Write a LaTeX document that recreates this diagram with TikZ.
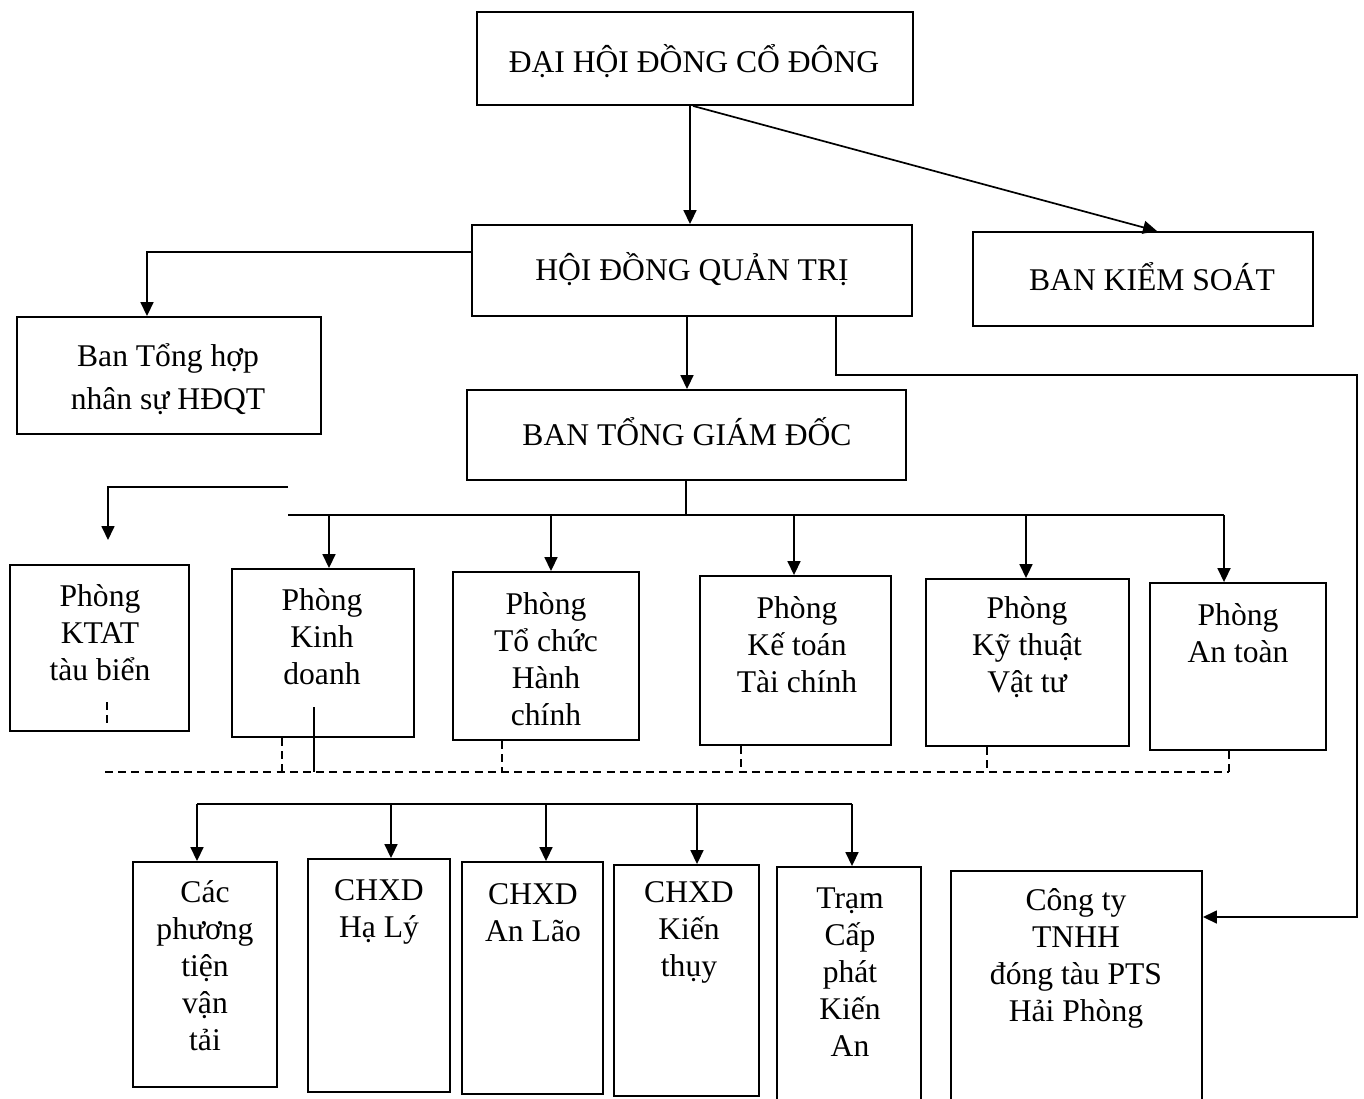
\documentclass[tikz,border=0pt]{standalone}
\usepackage{fontspec}
\setmainfont{Liberation Serif}
\usetikzlibrary{arrows.meta,fit,calc}
\tikzset{
  box/.style={draw, line width=0.95pt, inner sep=0pt},
  txt/.style={align=center, inner sep=0pt, font=\fontsize{15.8}{18.5}\selectfont},
  conn/.style={line width=0.85pt},
  arr/.style={conn, -{Triangle[length=7pt,width=6.5pt]}},
  dsh/.style={line width=0.95pt, dash pattern=on 4pt off 2.6pt},
}
\newcommand{\mkbox}[5]{\node[box, fit={(#2,#3) (#4,#5)}] (#1) {};}
\begin{document}
\begin{tikzpicture}[x=0.5pt,y=-0.5pt]
\useasboundingbox (0,0) rectangle (1364,1098);
\clip (0,0) rectangle (1364,1098);
\fill[white] (0,0) rectangle (1364,1098);

% ---- boxes ----
\mkbox{dhd}{477}{12}{913}{105}
\mkbox{hdqt}{472}{225}{912}{316}
\mkbox{bks}{973}{232}{1313}{326}
\mkbox{bth}{17}{317}{321}{434}
\mkbox{btgd}{467}{390}{906}{480}
\mkbox{ktat}{10}{565}{189}{731}
\mkbox{kd}{232}{569}{414}{737}
\mkbox{tc}{453}{572}{639}{740}
\mkbox{kt}{700}{576}{891}{745}
\mkbox{ktvt}{926}{579}{1129}{746}
\mkbox{at}{1150}{583}{1326}{750}
\mkbox{cac}{133}{862}{277}{1087}
\mkbox{hl}{308}{859}{450}{1092}
\mkbox{al}{462}{862}{603}{1094}
\mkbox{kth}{614}{865}{759}{1096}
\mkbox{tr}{777}{867}{921}{1120}
\mkbox{cty}{951}{871}{1202}{1120}

% ---- texts ----
\node[txt] (dhdT) at (694,61) {ĐẠI HỘI ĐỒNG CỔ ĐÔNG};
\node[txt] (hdqtT) at (692,269) {HỘI ĐỒNG QUẢN TRỊ};
\node[txt] (bksT) at (1152,277) {BAN KIỂM SOÁT};
\node[txt, font=\fontsize{15.8}{21.5}\selectfont] (bthT) at (168,379) {Ban Tổng hợp\\nhân sự HĐQT};
\node[txt] (btgdT) at (687,432) {BAN TỔNG GIÁM ĐỐC};
\node[txt] (ktatT) at (100,633) {Phòng\\KTAT\\tàu biển};
\node[txt] (kdT) at (322,637) {Phòng\\Kinh\\doanh};
\node[txt] (tcT) at (546,659) {Phòng\\Tổ chức\\Hành\\chính};
\node[txt] (ktT) at (797,645) {Phòng\\Kế toán\\Tài chính};
\node[txt] (ktvtT) at (1027,647) {Phòng\\Kỹ thuật\\Vật tư};
\node[txt] (atT) at (1238,633) {Phòng\\An toàn};
\node[txt] (cacT) at (205,966) {Các\\phương\\tiện\\vận\\tải};
\node[txt] (hlT) at (379,912) {CHXD\\Hạ Lý};
\node[txt] (alT) at (533,913) {CHXD\\An Lão};
\node[txt] (kthT) at (689,932) {CHXD\\Kiến\\thụy};
\node[txt] (trT) at (850,972) {Trạm\\Cấp\\phát\\Kiến\\An};
\node[txt] (ctyT) at (1076,958) {Công ty\\TNHH\\đóng tàu PTS\\Hải Phòng};

% ---- top connectors ----
\draw[arr] (690,0 |- dhd.south) -- (690,0 |- hdqt.north);
\draw[arr] (693,0 |- dhd.south) -- (1157,0 |- bks.north);
\draw[arr] (hdqt.west |- 0,252) -- (147,252) -- (147,0 |- bth.north);
\draw[arr] (687,0 |- hdqt.south) -- (687,0 |- btgd.north);
\draw[arr] (836,0 |- hdqt.south) -- (836,375) -- (1357,375) -- (1357,917) -- (1357,917 -| cty.east);

% ---- main bus from BTGD ----
\coordinate (busL) at (288,515);
\coordinate (busR) at (1224,515);
\draw[conn] (686,0 |- btgd.south) -- (686,515);
\draw[conn] (busL) -- (busR);
\draw[arr] (329,515) -- (329,0 |- kd.north);
\draw[arr] (551,515) -- (551,0 |- tc.north);
\draw[arr] (794,515) -- (794,0 |- kt.north);
\draw[arr] (1026,515) -- (1026,0 |- ktvt.north);
\draw[arr] (busR) -- (busR |- at.north);

% ---- dangling branch to KTAT ----
\coordinate (ktS) at (288,487);
\coordinate (ktE) at (108,540);
\draw[arr] (ktS) -| (ktE);

% ---- dashed links ----
\coordinate (dL) at (105,772);
\coordinate (dR) at (1229,772);
\draw[dsh] (dL) -- (dR);
\draw[dsh] (107,702) -- (107,724);
\draw[dsh] (282,0 |- kd.south) -- (282,772);
\draw[conn] (314,707) -- (314,772);
\draw[dsh] (502,0 |- tc.south) -- (502,772);
\draw[dsh] (741,0 |- kt.south) -- (741,772);
\draw[dsh] (987,0 |- ktvt.south) -- (987,772);
\draw[dsh] (1229,0 |- at.south) -- (dR);

% ---- lower bus ----
\coordinate (lbL) at (197,804);
\coordinate (lbR) at (852,804);
\draw[conn] (lbL) -- (lbR);
\draw[arr] (lbL) -- (lbL |- cac.north);
\draw[arr] (391,804) -- (391,0 |- hl.north);
\draw[arr] (546,804) -- (546,0 |- al.north);
\draw[arr] (697,804) -- (697,0 |- kth.north);
\draw[arr] (lbR) -- (lbR |- tr.north);
\end{tikzpicture}
\end{document}
